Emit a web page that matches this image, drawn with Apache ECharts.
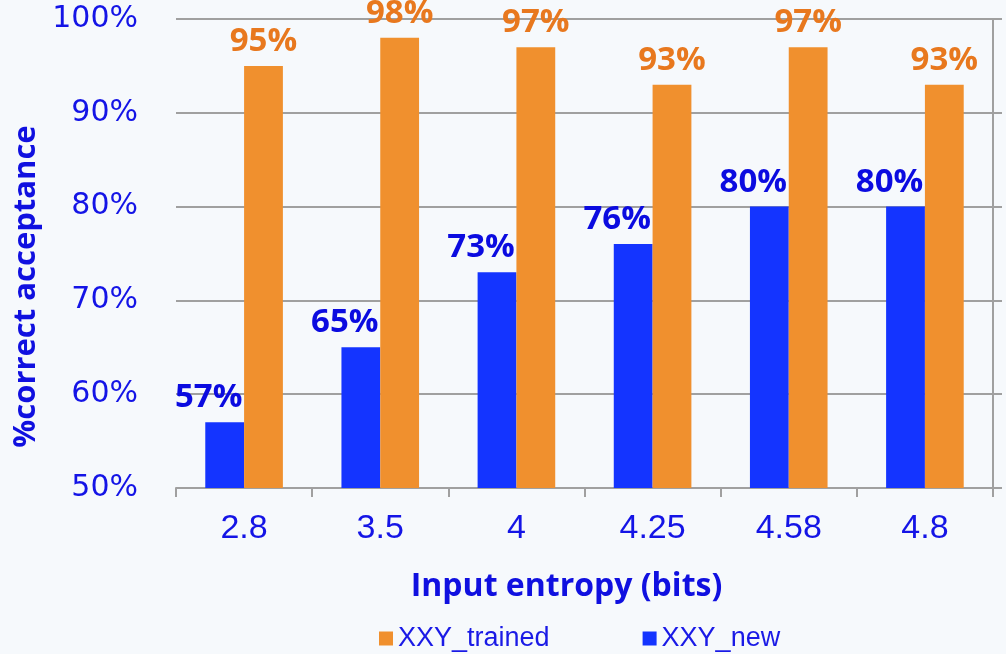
<!DOCTYPE html>
<html><head><meta charset="utf-8">
<script src="https://cdn.jsdelivr.net/npm/echarts@6/dist/echarts.min.js"></script>
<style>html,body{margin:0;padding:0;background:#f6f9fc}#c{width:1006px;height:654px}</style>
</head><body><div id="c"></div>
<script>
const categories = ['2.8', '3.5', '4', '4.25', '4.58', '4.8'];
const xxyNew = [57, 65, 73, 76, 80, 80];
const xxyTrained = [95, 98, 97, 93, 97, 93];
const yTicks = [50, 60, 70, 80, 90, 100];

const chart = echarts.init(document.getElementById('c'));
const blue = '#1434ff', orange = '#f0902e';
const labelFont = "'Open Sans'";
chart.setOption({
  backgroundColor: '#f6f9fc',
  animation: false,
  grid: { left: 176, right: 13, top: 19, bottom: 166 },
  legend: {
    data: ['XXY_trained', 'XXY_new'],
    top: 620, left: 374,
    itemWidth: 14, itemHeight: 14, itemGap: 93,
    icon: 'rect',
    textStyle: { color: '#1a1ae6', fontSize: 27, fontFamily: 'Liberation Sans' }
  },
  xAxis: {
    type: 'category', data: categories,
    axisLine: { lineStyle: { color: '#a0a0a0', width: 2 } },
    axisTick: { show: true, length: 9, lineStyle: { color: '#a0a0a0', width: 2 } },
    axisLabel: { color: '#1414e6', fontSize: 34, fontFamily: 'Liberation Sans', margin: 24 },
    name: 'Input entropy (bits)', nameLocation: 'middle', nameGap: 83,
    nameTextStyle: { color: '#1010e0', fontSize: 32, fontWeight: 'bold', fontFamily: 'Open Sans', padding: [0, 36, 0, 0] }
  },
  yAxis: [{
    type: 'value', min: 50, max: 100, interval: 10,
    axisLine: { show: false }, axisTick: { show: false },
    axisLabel: { color: '#1414e6', fontSize: 30, fontFamily: 'DejaVu Sans', margin: 38,
      formatter: v => yTicks.includes(v) ? v + '%' : '' },
    splitLine: { lineStyle: { color: '#a0a0a0', width: 2 } },
    name: '%correct acceptance', nameLocation: 'middle', nameGap: 125,
    nameTextStyle: { color: '#1010e0', fontSize: 31, fontWeight: 'bold', fontFamily: 'Open Sans', padding: [0, 66, 0, 0] }
  }, {
    type: 'value', min: 50, max: 100, interval: 10, position: 'right',
    axisLine: { show: true, lineStyle: { color: '#a0a0a0', width: 2 } },
    axisTick: { show: true, length: 9, lineStyle: { color: '#a0a0a0', width: 2 } },
    axisLabel: { show: false }, splitLine: { show: false }
  }],
  series: [{
    name: 'XXY_new', type: 'bar', data: xxyNew, barGap: '0%', barCategoryGap: '43%',
    itemStyle: { color: blue },
    label: { show: true, position: 'top', offset: [-16, 0], distance: 8, formatter: '{c}%',
      color: '#0b0be0', fontSize: 33, fontWeight: 'bold', fontFamily: labelFont }
  }, {
    name: 'XXY_trained', type: 'bar', data: xxyTrained,
    itemStyle: { color: orange },
    label: { show: true, position: 'top', distance: 8, formatter: '{c}%',
      color: '#e8781e', fontSize: 33, fontWeight: 'bold', fontFamily: labelFont }
  }]
});
</script></body></html>
